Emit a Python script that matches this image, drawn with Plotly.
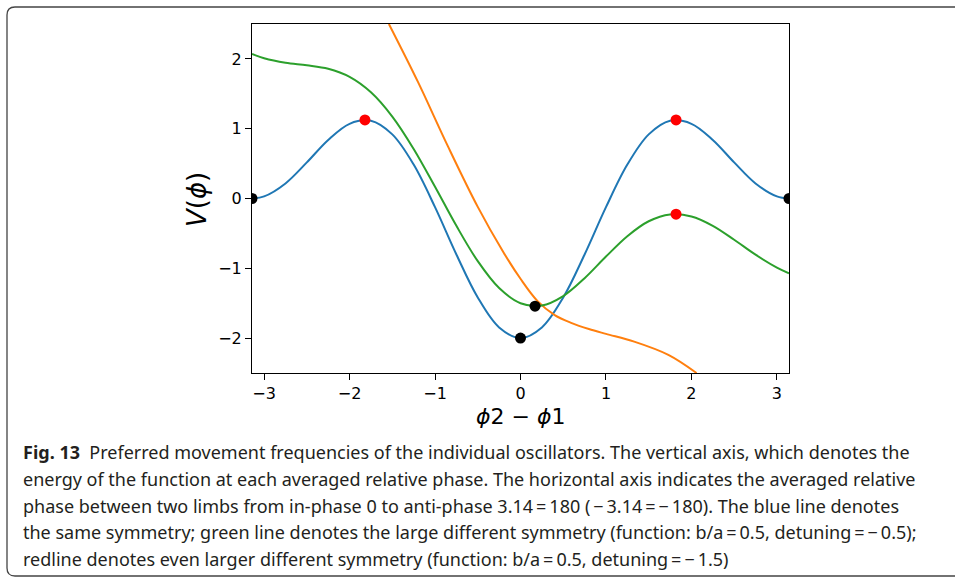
import plotly.graph_objects as go

# Potential curves V(phi) over the relative phase phi2 - phi1
phi_blue = [-3.1416, -3.0, -2.75, -2.5, -2.25, -2.0, -1.75, -1.5, -1.25, -1.0, -0.75, -0.5, -0.25, 0.0,
            0.25, 0.5, 0.75, 1.0, 1.25, 1.5, 1.75, 2.0, 2.25, 2.5, 2.75, 3.0, 3.1416]
v_blue = [0.0, 0.030, 0.216, 0.517, 0.839, 1.070, 1.115, 0.919, 0.486, -0.124, -0.802, -1.418, -1.847, -2.0,
          -1.847, -1.418, -0.802, -0.124, 0.486, 0.919, 1.115, 1.070, 0.839, 0.517, 0.216, 0.030, 0.0]

phi_green = [-3.1416, -3.0, -2.75, -2.5, -2.25, -2.0, -1.75, -1.5, -1.25, -1.0, -0.75, -0.5, -0.25, 0.0,
             0.25, 0.5, 0.75, 1.0, 1.25, 1.5, 1.75, 2.0, 2.25, 2.5, 2.75, 3.0, 3.1416]
v_green = [2.071, 2.010, 1.945, 1.909, 1.859, 1.743, 1.522, 1.174, 0.710, 0.168, -0.392, -0.898, -1.283, -1.5,
           -1.533, -1.398, -1.142, -0.832, -0.540, -0.326, -0.229, -0.257, -0.391, -0.591, -0.805, -0.990, -1.071]

phi_orange = [-1.54, -1.2, -0.85, -0.5, -0.2, 0.0, 0.2, 0.4, 0.6, 0.8, 1.0, 1.33, 1.73, 2.06]
v_orange = [2.50, 1.67, 0.75, -0.12, -0.77, -1.15, -1.47, -1.67, -1.785, -1.87, -1.94, -2.05, -2.24, -2.50]

# Stable points (black) and unstable points (red)
stable_phi = [-3.1416, 0.0, 3.1416, 0.17]
stable_v = [0.0, -2.0, 0.0, -1.542]
unstable_phi = [-1.82, 1.82, 1.82]
unstable_v = [1.125, 1.125, -0.224]

x_ticks = [-3, -2, -1, 0, 1, 2, 3]
y_ticks = [-2, -1, 0, 1, 2]

caption_lines = [
    "<b>Fig. 13</b>  Preferred movement frequencies of the individual oscillators. The vertical axis, which denotes the",
    "energy of the function at each averaged relative phase. The horizontal axis indicates the averaged relative",
    "phase between two limbs from in-phase 0 to anti-phase 3.14\u2009=\u2009180 (\u2009\u2212\u20093.14\u2009=\u2009\u2212\u2009180). The blue line denotes",
    "the same symmetry; green line denotes the large different symmetry (function: b/a\u2009=\u20090.5, detuning\u2009=\u2009\u2212\u20090.5);",
    "redline denotes even larger different symmetry (function: b/a\u2009=\u20090.5, detuning\u2009=\u2009\u2212\u20091.5)",
]

W, H = 955, 577
L, R, T, B = 252, 789, 24, 373


def px(x):
    return (x - L) / (R - L)


def py(y):
    return (B - y) / (B - T)


fig = go.Figure()
line_w = 2
fig.add_trace(go.Scatter(x=phi_blue, y=v_blue, mode="lines", line=dict(color="#1f77b4", width=line_w, shape="spline")))
fig.add_trace(go.Scatter(x=phi_orange, y=v_orange, mode="lines", line=dict(color="#ff7f0e", width=line_w, shape="spline")))
fig.add_trace(go.Scatter(x=phi_green, y=v_green, mode="lines", line=dict(color="#2ca02c", width=line_w, shape="spline")))
fig.add_trace(go.Scatter(x=stable_phi, y=stable_v, mode="markers", marker=dict(color="black", size=11)))
fig.add_trace(go.Scatter(x=unstable_phi, y=unstable_v, mode="markers", marker=dict(color="red", size=11)))

axis_common = dict(showgrid=False, zeroline=False, showline=True, mirror=True, linecolor="black", linewidth=1,
                   ticks="outside", ticklen=6, tickwidth=1, tickcolor="black",
                   tickfont=dict(family="DejaVu Sans", size=16, color="black"))

fig.update_xaxes(range=[-3.1416, 3.1416], tickvals=x_ticks, ticktext=[f"{t}".replace("-", "\u2212") for t in x_ticks],
                 **axis_common)
fig.update_yaxes(range=[-2.5, 2.5], tickvals=y_ticks, ticktext=[f"{t}".replace("-", "\u2212") for t in y_ticks],
                 **axis_common)

annotations = [
    dict(text="<i>\u03d5</i>2 \u2212 <i>\u03d5</i>1", x=px(520), y=py(416), xref="paper", yref="paper",
         showarrow=False, font=dict(family="DejaVu Sans", size=22, color="black"), xanchor="center", yanchor="middle"),
    dict(text="<i>V</i>(<i>\u03d5</i>)", x=px(197), y=py(200), xref="paper", yref="paper", textangle=-90,
         showarrow=False, font=dict(family="DejaVu Sans", size=26, color="black"), xanchor="center", yanchor="middle"),
]
line_y = [452, 479, 506, 532, 559]
for text, yy in zip(caption_lines, line_y):
    annotations.append(dict(text=text, x=px(21), y=py(yy), xref="paper", yref="paper", showarrow=False,
                            xanchor="left", yanchor="middle",
                            font=dict(family="Noto Sans", size=18, color="#231f20")))

# Rounded frame around the figure panel
border = (f"M {px(962)},{py(7)} L {px(15)},{py(7)} Q {px(7)},{py(7)} {px(7)},{py(15)} "
          f"L {px(7)},{py(568)} Q {px(7)},{py(576)} {px(15)},{py(576)} L {px(962)},{py(576)}")

fig.update_layout(
    width=W, height=H,
    margin=dict(l=L, r=W - R, t=T, b=H - B),
    paper_bgcolor="white", plot_bgcolor="white",
    showlegend=False,
    annotations=annotations,
    shapes=[dict(type="path", path=border, xref="paper", yref="paper", line=dict(color="#444", width=1.3),
                 layer="above")],
)

fig.write_html("out.html")
